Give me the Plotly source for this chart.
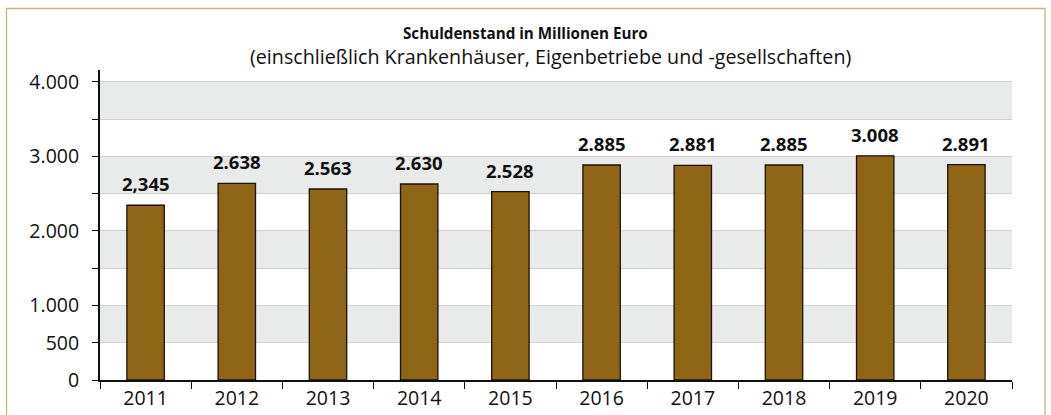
import plotly.graph_objects as go

years = ["2011", "2012", "2013", "2014", "2015", "2016", "2017", "2018", "2019", "2020"]
values = [2345, 2638, 2563, 2630, 2528, 2885, 2881, 2885, 3008, 2891]
value_labels = ["2,345", "2.638", "2.563", "2.630", "2.528", "2.885", "2.881", "2.885", "3.008", "2.891"]
ytick_vals = [0, 500, 1000, 1500, 2000, 2500, 3000, 3500, 4000]
ytick_text = ["0", "500", "1.000", "", "2.000", "", "3.000", "", "4.000"]
gray_bands = [(500, 1000), (1500, 2000), (2500, 3000), (3500, 4000)]
title = "<b>Schuldenstand in Millionen Euro</b>"
subtitle = "(einschließlich Krankenhäuser, Eigenbetriebe und -gesellschaften)"

FONT = "Open Sans"
W, H = 1051, 415
L, R, T, B = 100, 39, 70, 35
pw, ph = W - L - R, H - T - B

def px_x(x):
    return (x - L) / pw

def px_y(y):
    return (H - B - y) / ph

pos = list(range(len(years)))
bounds = [p - 0.5 for p in pos] + [pos[-1] + 0.5]

fig = go.Figure()
fig.add_trace(go.Bar(
    x=pos, y=values,
    marker=dict(color="#8f6517", line=dict(color="#1a1208", width=1.3)),
    width=0.41,
    hoverinfo="skip",
))

shapes = []
for lo, hi in gray_bands:
    shapes.append(dict(type="rect", xref="paper", yref="y", x0=0, x1=1, y0=lo, y1=hi,
                       fillcolor="#e9eaea", line=dict(width=0), layer="below"))
# frame
shapes.append(dict(type="rect", xref="paper", yref="paper",
                   x0=px_x(6.5), x1=px_x(1045), y0=px_y(8.5), y1=px_y(430),
                   line=dict(color="#c9b57e", width=1.3), fillcolor="rgba(0,0,0,0)", layer="above"))

annotations = []
for p, v, lab in zip(pos, values, value_labels):
    annotations.append(dict(x=p, y=v, xref="x", yref="y", text="<b>" + lab + "</b>",
                            showarrow=False, xanchor="center", yanchor="bottom", yshift=7,
                            font=dict(family=FONT, size=18.5, color="#111")))
annotations.append(dict(xref="paper", yref="paper", x=px_x(525), y=px_y(33), text=title,
                        showarrow=False, xanchor="center", yanchor="middle",
                        font=dict(family=FONT, size=15.2, color="#111")))
annotations.append(dict(xref="paper", yref="paper", x=px_x(550), y=px_y(57), text=subtitle,
                        showarrow=False, xanchor="center", yanchor="middle",
                        font=dict(family=FONT, size=19.7, color="#111")))

fig.update_layout(
    width=W, height=H,
    margin=dict(l=L, r=R, t=T, b=B, pad=0, autoexpand=False),
    paper_bgcolor="white", plot_bgcolor="white",
    showlegend=False,
    shapes=shapes, annotations=annotations,
    font=dict(family=FONT, size=19.5, color="#111"),
)
fig.update_xaxes(
    type="linear", range=[bounds[0], bounds[-1]], automargin=False,
    tickvals=pos, ticktext=years, ticks="",
    minor=dict(tickvals=bounds, ticks="outside", ticklen=7, tickwidth=1.3, tickcolor="#111", showgrid=False),
    showline=True, linecolor="#111", linewidth=2,
    showgrid=False, zeroline=False, tickfont=dict(family=FONT, size=19.5, color="#111"),
    ticklabelstandoff=0,
)
fig.update_yaxes(
    range=[0, 4160], tickvals=ytick_vals, ticktext=ytick_text, automargin=False,
    showline=True, linecolor="#111", linewidth=2,
    ticks="outside", ticklen=6, tickwidth=1.3, tickcolor="#111",
    showgrid=True, gridcolor="#cfcfcf", gridwidth=1,
    zeroline=False, tickfont=dict(family=FONT, size=19.5, color="#111"),
    ticklabelstandoff=9,
)

fig.write_html("out.html", config={"displayModeBar": False},
               post_script="document.body.style.margin='0';document.body.style.overflow='hidden';")
